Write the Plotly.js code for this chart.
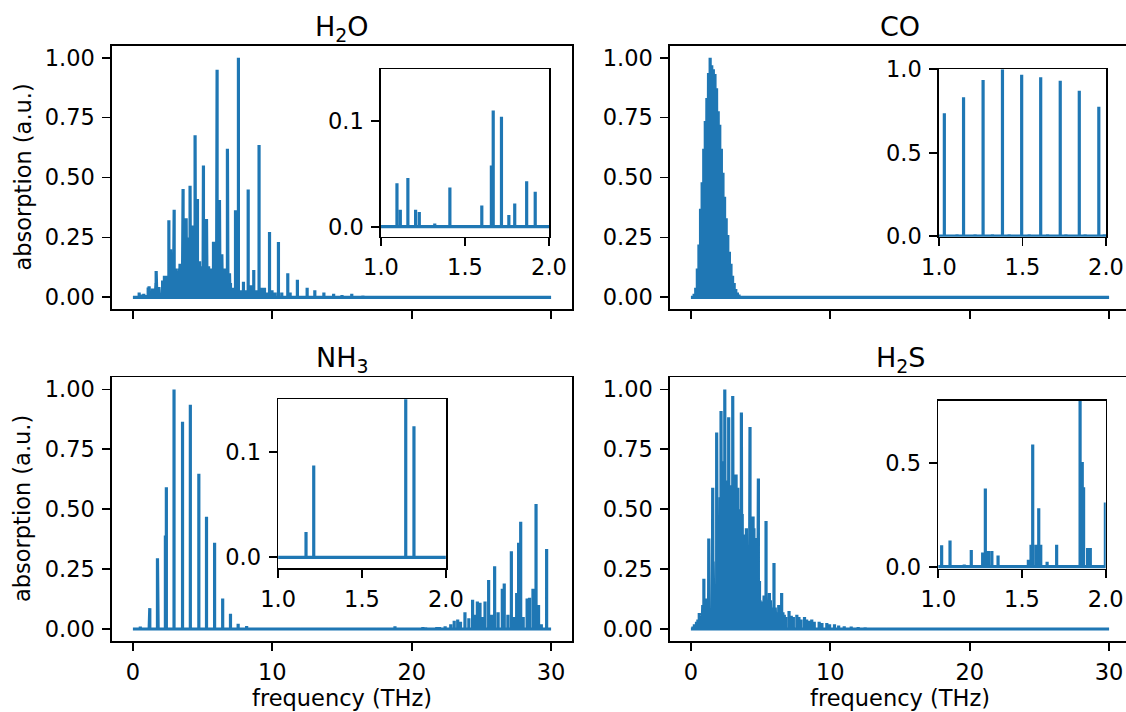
<!DOCTYPE html>
<html><head><meta charset="utf-8">
<script src="https://cdn.plot.ly/plotly-3.0.1.min.js"></script>
<style>html,body{margin:0;padding:0;overflow:hidden;background:#fff}</style>
</head><body><div id="plot" style="width:1140px;height:712px"></div>
<script>
// ---------------- data (line centre frequency in THz, normalised absorption) ----------------
const h2oFreq = [0.45,0.62,0.78,0.95,1.095,1.115,1.16,1.206,1.228,1.32,1.41,1.60,1.657,1.668,1.717,1.761,1.796,1.867,1.918,
  2.13,2.20,2.26,2.35,2.41,2.48,2.58,2.64,2.70,2.75,2.80,2.86,2.96,3.02,3.08,3.14,3.20,3.26,3.32,3.38,3.45,3.52,3.60,3.66,3.70,3.76,3.82,3.88,3.93,4.00,4.10,4.16,4.23,4.30,4.36,4.46,4.52,4.63,4.70,4.78,4.86,4.94,5.00,5.06,5.12,5.16,5.22,5.28,5.35,5.43,5.50,5.58,5.65,5.72,5.78,5.85,5.93,6.00,6.04,6.10,6.21,6.28,6.38,6.45,6.52,6.58,6.65,6.72,6.78,6.86,6.93,7.00,7.13,7.36,7.57,7.73,7.93,8.13,8.27,8.48,8.67,8.85,9.05,9.23,9.44,9.60,9.80,9.98,10.20,10.44,10.68,11.11,11.28,11.80,12.50,13.05,13.70,14.40,15.00,15.70,16.50,17.30,18.50,20.00,22.00,
  2.53,2.67,2.77,2.83,2.91,2.99,3.05,3.11,3.17,3.23,3.29,3.35,3.41,3.48,3.55,3.63,3.73,3.79,3.85,3.96,4.04,4.13,4.19,4.26,4.33,4.40,4.49,4.56,4.60,4.67,4.74,4.82,4.90,4.97,5.03,5.09,5.19,5.25,5.32,5.39,5.46,5.54,5.61,5.68,5.75,5.81,5.89,5.97,6.07,6.15,6.25,6.32,6.42,6.49,6.55,6.62,6.69,6.75,6.82,6.89,6.96];
const h2oAbs = [0.02,0.012,0.015,0.01,0.041,0.016,0.046,0.016,0.014,0.003,0.037,0.02,0.058,0.11,0.104,0.011,0.022,0.043,0.033,
  0.07,0.06,0.09,0.07,0.09,0.08,0.322,0.09,0.20,0.08,0.10,0.10,0.365,0.10,0.12,0.09,0.11,0.10,0.12,0.14,0.10,0.11,0.452,0.12,0.18,0.10,0.33,0.12,0.25,0.11,0.466,0.12,0.30,0.10,0.13,0.676,0.12,0.41,0.11,0.15,0.12,0.10,0.13,0.55,0.11,0.20,0.12,0.327,0.10,0.13,0.11,0.10,0.12,0.10,0.232,0.11,0.14,0.12,0.95,0.10,0.406,0.11,0.18,0.10,0.09,0.12,0.10,0.11,0.62,0.08,0.10,0.06,0.04,0.363,1.00,0.03,0.065,0.03,0.45,0.05,0.114,0.03,0.636,0.04,0.04,0.02,0.273,0.03,0.02,0.231,0.02,0.10,0.02,0.073,0.04,0.03,0.02,0.015,0.01,0.015,0.008,0.006,0.005,0.004,0.003,
  0.08,0.09,0.07,0.09,0.10,0.08,0.10,0.08,0.10,0.09,0.11,0.10,0.09,0.11,0.10,0.11,0.12,0.11,0.10,0.12,0.11,0.10,0.11,0.12,0.11,0.12,0.10,0.12,0.11,0.10,0.12,0.11,0.12,0.11,0.10,0.12,0.10,0.11,0.12,0.10,0.12,0.10,0.11,0.12,0.10,0.11,0.10,0.11,0.10,0.12,0.10,0.11,0.10,0.11,0.10,0.09,0.10,0.11,0.08,0.07,0.06];

const coFreq = [0.115,0.230,0.346,0.461,0.576,0.691,0.806,0.921,1.032,1.108,1.147,1.216,1.264,1.320,1.380,1.420,1.495,1.540,1.609,1.650,1.726,1.760,1.840,1.875,1.957,1.990,2.070,2.185,2.300,2.415,2.530,2.645,2.760,2.875,2.990,3.105,3.220,3.335,3.450,3.565,3.680,3.800];
const coAbs  = [0.004,0.015,0.04,0.12,0.22,0.37,0.48,0.62,0.736,0.012,0.832,0.012,0.936,0.012,1.00,0.012,0.968,0.012,0.952,0.012,0.932,0.012,0.872,0.012,0.776,0.012,0.72,0.62,0.52,0.42,0.33,0.26,0.19,0.14,0.09,0.06,0.035,0.02,0.012,0.007,0.004,0.002];

const nh3Freq = [0.53,1.166,1.212,1.761,1.81,2.33,2.40,2.95,3.56,4.12,4.73,5.28,5.86,6.44,7.00,7.55,8.16,9.0,10.5,12.0,14.0,16.0,17.5,18.8,19.5,20.8,21.0,21.5,21.8,22.0,22.4,22.8,23.05,23.3,23.5,23.82,24.1,24.37,24.55,24.71,24.9,25.1,25.26,25.52,25.75,25.95,26.2,26.5,26.64,26.9,27.15,27.35,27.53,27.67,27.82,28.0,28.28,28.45,28.7,28.92,29.1,29.3,29.68];
const nh3Abs  = [0.01,0.024,0.087,0.295,0.124,0.39,0.592,1.00,0.865,0.936,0.648,0.468,0.36,0.127,0.064,0.022,0.013,0.004,0.003,0.003,0.003,0.004,0.004,0.012,0.005,0.008,0.007,0.005,0.008,0.008,0.012,0.02,0.035,0.04,0.03,0.07,0.045,0.122,0.06,0.115,0.11,0.05,0.115,0.205,0.06,0.262,0.07,0.168,0.19,0.06,0.325,0.05,0.15,0.36,0.448,0.05,0.127,0.13,0.168,0.522,0.10,0.02,0.334];

const h2sFreq = [0.15,0.25,0.40,0.50,0.60,0.70,0.80,0.85,0.93,1.02,1.07,1.155,1.197,1.265,1.281,1.30,1.32,1.357,1.538,1.554,1.564,1.584,1.60,1.612,1.65,1.707,1.847,1.86,1.868,1.892,1.908,1.998,
  2.05,2.10,2.16,2.22,2.28,2.35,2.43,2.50,2.56,2.63,2.71,2.78,2.84,2.92,3.00,3.06,3.12,3.18,3.24,3.30,3.36,3.42,3.48,3.55,3.62,3.68,3.74,3.84,3.90,3.98,4.05,4.12,4.24,4.30,4.38,4.46,4.52,4.60,4.70,4.84,4.92,5.00,5.08,5.15,5.25,5.39,5.45,5.63,5.70,5.80,5.96,6.05,6.20,6.30,6.51,6.60,6.80,7.04,7.20,7.35,7.60,7.75,7.90,8.15,8.30,8.45,8.67,8.85,9.20,9.40,9.75,9.95,10.30,10.60,11.0,11.5,12.0,12.5,13.0,14.0,16.0,
  2.02,2.08,2.13,2.19,2.25,2.31,2.39,2.46,2.53,2.59,2.67,2.74,2.81,2.88,2.96,3.03,3.09,3.15,3.21,3.27,3.33,3.39,3.45,3.52,3.58,3.65,3.71,3.78,3.87,3.94,4.01,4.08,4.16,4.20,4.27,4.34,4.42,4.49,4.56,4.64,4.67,4.74,4.80,4.88,4.96,5.04,5.12,5.20,5.32,5.50,5.58,5.75,5.88,6.10,6.40,6.70];
const h2sAbs  = [0.01,0.02,0.03,0.04,0.067,0.05,0.07,0.10,0.21,0.103,0.127,0.011,0.081,0.068,0.378,0.076,0.076,0.054,0.033,0.106,0.59,0.106,0.282,0.106,0.024,0.106,0.82,0.505,0.383,0.09,0.09,0.31,
  0.35,0.55,0.91,0.60,0.45,0.70,1.00,0.55,0.62,0.50,0.884,0.60,0.45,0.55,0.972,0.50,0.40,0.58,0.645,0.45,0.59,0.50,0.38,0.42,0.904,0.48,0.35,0.394,0.30,0.42,0.28,0.35,0.843,0.40,0.35,0.47,0.42,0.30,0.38,0.628,0.20,0.12,0.115,0.10,0.14,0.451,0.10,0.15,0.12,0.08,0.276,0.09,0.07,0.10,0.15,0.07,0.05,0.075,0.055,0.05,0.06,0.05,0.04,0.05,0.04,0.035,0.04,0.03,0.03,0.025,0.025,0.02,0.02,0.015,0.012,0.01,0.008,0.007,0.005,0.003,0.002,
  0.30,0.40,0.45,0.50,0.40,0.55,0.50,0.45,0.50,0.40,0.55,0.45,0.50,0.42,0.50,0.45,0.38,0.45,0.50,0.40,0.45,0.38,0.42,0.35,0.45,0.38,0.30,0.35,0.28,0.32,0.30,0.25,0.30,0.40,0.25,0.30,0.28,0.30,0.25,0.22,0.30,0.20,0.25,0.15,0.12,0.10,0.09,0.10,0.12,0.09,0.10,0.08,0.09,0.07,0.08,0.06];

const freqMax = 30;
const titles = ['H<sub>2</sub>O','CO','NH<sub>3</sub>','H<sub>2</sub>S'];
const freqTicks = [0,10,20,30];
const freqTickText = ['0','10','20','30'];
const absTicks = [0,0.25,0.5,0.75,1];
const absTickText = ['0.00','0.25','0.50','0.75','1.00'];
const insetFreqTicks = [1,1.5,2];
const insetFreqTickText = ['1.0','1.5','2.0'];
const insetSmallTicks = [0,0.1];
const insetSmallTickText = ['0.0','0.1'];
const insetCoTicks = [0,0.5,1];
const insetCoTickText = ['0.0','0.5','1.0'];
const insetH2sTicks = [0,0.5];
const insetH2sTickText = ['0.0','0.5'];
const xLabel = 'frequency (THz)';
const yLabel = 'absorption (a.u.)';

// ---------------- build stick spectra ----------------
function sticks(freqs, amps) {
  const idx = freqs.map((f,i)=>i).sort((a,b)=>freqs[a]-freqs[b]);
  const x=[0], y=[0];
  idx.forEach(i=>{ x.push(freqs[i],freqs[i],freqs[i]); y.push(0,amps[i],0); });
  x.push(freqMax); y.push(0);
  return {x,y};
}
const spectra = [sticks(h2oFreq,h2oAbs), sticks(coFreq,coAbs), sticks(nh3Freq,nh3Abs), sticks(h2sFreq,h2sAbs)];
const blue = '#1f77b4';
const axId = n => n===1 ? '' : String(n);
const traces = [];
spectra.forEach((s,i)=>{
  traces.push({x:s.x, y:s.y, type:'scatter', mode:'lines', line:{color:blue, width:3.2}, xaxis:'x'+axId(i+1), yaxis:'y'+axId(i+1), hoverinfo:'skip'});
});
spectra.forEach((s,i)=>{
  traces.push({x:s.x, y:s.y, type:'scatter', mode:'lines', line:{color:blue, width:3.2}, xaxis:'x'+(i+5), yaxis:'y'+(i+5), hoverinfo:'skip'});
});

// ---------------- layout ----------------
const W = 1140, H = 712;
const dx = (a,b)=>[a/W, b/W];
const dy = (t,b)=>[1-b/H, 1-t/H];
const font = {family:'DejaVu Sans, sans-serif', size:22.5, color:'black'};
const base = {showline:true, mirror:true, linecolor:'black', linewidth:1.7, ticks:'outside', ticklen:8, tickwidth:1.7,
  tickcolor:'black', showgrid:false, zeroline:false, tickfont:font, fixedrange:true};
const mainX = (n, dom, labels)=>Object.assign({}, base, {anchor:'y'+axId(n), domain:dom, range:[-1.5,31.5], tickmode:'array', tickvals:freqTicks, ticktext:freqTickText, showticklabels:labels, ticklabelstandoff:2});
const mainY = (n, dom)=>Object.assign({}, base, {anchor:'x'+axId(n), domain:dom, range:[-0.05,1.05], tickmode:'array', tickvals:absTicks, ticktext:absTickText, ticklabelstandoff:3});
const inX = (n, dom)=>Object.assign({}, base, {anchor:'y'+n, domain:dom, range:[1,2], tickmode:'array', tickvals:insetFreqTicks, ticktext:insetFreqTickText, ticklabelstandoff:2});
const inY = (n, dom, rng, tv, tt)=>Object.assign({}, base, {anchor:'x'+n, domain:dom, range:rng, tickmode:'array', tickvals:tv, ticktext:tt, ticklabelstandoff:3});

const topRow = dy(45.7,309.3), botRow = dy(377.4,641);
const leftCol = dx(112,572), rightCol = dx(670,1130);

const layout = {
  width:W, height:H, margin:{l:0,r:0,t:0,b:0}, showlegend:false,
  paper_bgcolor:'white', plot_bgcolor:'white', font:font,
  xaxis: mainX(1,leftCol,false), yaxis: mainY(1,topRow),
  xaxis2: mainX(2,rightCol,false), yaxis2: mainY(2,topRow),
  xaxis3: mainX(3,leftCol,true), yaxis3: mainY(3,botRow),
  xaxis4: mainX(4,rightCol,true), yaxis4: mainY(4,botRow),
  xaxis5: inX(5,dx(381,549)), yaxis5: inY(5,dy(69.3,236.7), [-0.0095,0.149], insetSmallTicks, insetSmallTickText),
  xaxis6: inX(6,dx(939,1106)), yaxis6: inY(6,dy(69.3,236.7), [-0.003,1.0], insetCoTicks, insetCoTickText),
  xaxis7: inX(7,dx(278.2,445.8)), yaxis7: inY(7,dy(399.3,568), [-0.0101,0.1496], insetSmallTicks, insetSmallTickText),
  xaxis8: inX(8,dx(938.3,1105.7)), yaxis8: inY(8,dy(401,568.7), [-0.0097,0.80], insetH2sTicks, insetH2sTickText),
  annotations: []
};
const centers = [342/W, 900/W];
[[0,9],[1,9],[0,340],[1,340]].forEach((p,i)=>{
  layout.annotations.push({text:titles[i], x:centers[p[0]], y:1-p[1]/H, xref:'paper', yref:'paper', xanchor:'center', yanchor:'top', showarrow:false, font:{family:font.family, size:27, color:'black'}});
});
centers.forEach(c=>{
  layout.annotations.push({text:xLabel, x:c, y:1-698/H, xref:'paper', yref:'paper', xanchor:'center', yanchor:'middle', showarrow:false, font:font});
});
[177.5, 509].forEach(cy=>{
  layout.annotations.push({text:yLabel, x:22/W, y:1-cy/H, xref:'paper', yref:'paper', xanchor:'center', yanchor:'middle', textangle:-90, showarrow:false, font:font});
});

Plotly.newPlot('plot', traces, layout, {staticPlot:true, displayModeBar:false});
</script></body></html>
